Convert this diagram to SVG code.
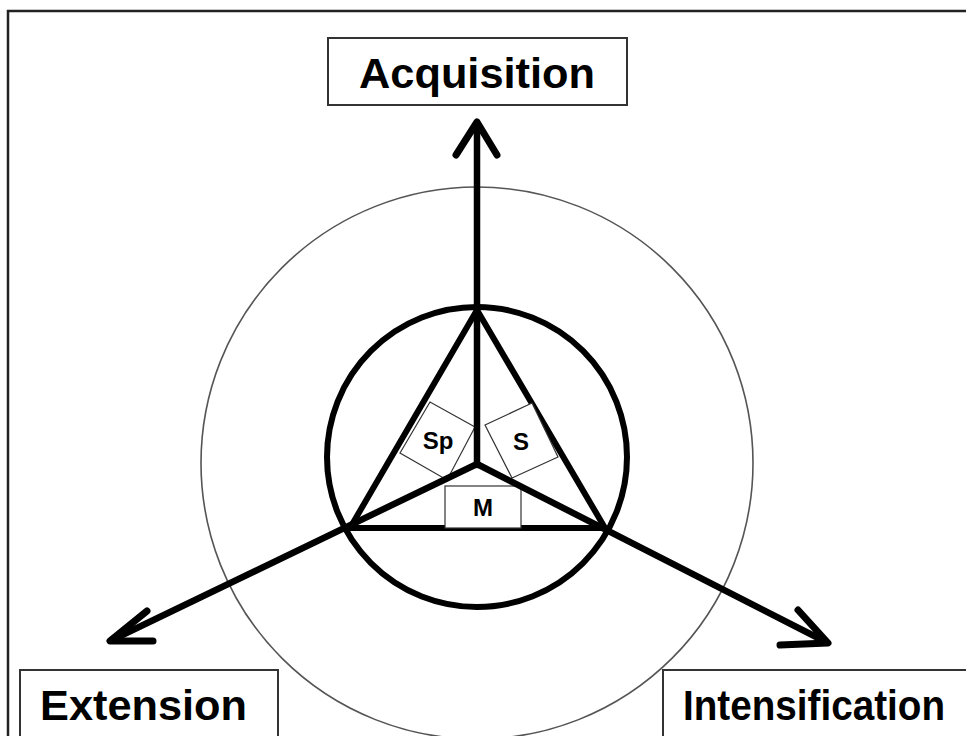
<svg xmlns="http://www.w3.org/2000/svg" width="966" height="736" viewBox="0 0 966 736">
  <style>
    .frame { fill: none; stroke: #222; stroke-width: 2.5; }
    .lbox { fill: #fff; stroke: #333; stroke-width: 2; }
    .ltext { font-family: "Liberation Sans", Arial, sans-serif; font-weight: bold; font-size: 42px; fill: #000; text-anchor: middle; }
    .sbox { fill: #fff; stroke: #333; stroke-width: 1.2; }
    .stext { font-family: "Liberation Sans", Arial, sans-serif; font-weight: bold; font-size: 24px; fill: #000; text-anchor: middle; }
    .thin { fill: none; stroke: #555; stroke-width: 1.6; }
    .thick { fill: none; stroke: #000; stroke-width: 6; stroke-linejoin: round; }
    .arrow { fill: none; stroke: #000; stroke-width: 6.5; stroke-linecap: round; }
    .head { fill: none; stroke: #000; stroke-width: 7; stroke-linecap: round; stroke-linejoin: round; }
  </style>
  <rect width="966" height="736" fill="#fff"/>
  <path class="frame" d="M966,11 H8 V736"/>

  <g id="outer-circle">
    <circle class="thin" cx="477" cy="463" r="276"/>
  </g>
  <g id="inner-circle">
    <circle class="thick" cx="477" cy="457" r="150"/>
  </g>
  <g id="triangle">
    <polygon class="thick" points="477,310 350,528 605,528"/>
  </g>

  <g id="node-sp">
    <polygon class="sbox" points="400,453 430,402 475,427 447,480"/>
    <text class="stext" x="438" y="449">Sp</text>
  </g>
  <g id="node-s">
    <polygon class="sbox" points="485,425 532,403 558,457 512,478"/>
    <text class="stext" x="521" y="450">S</text>
  </g>
  <g id="node-m">
    <rect class="sbox" x="445" y="486" width="76" height="42"/>
    <text class="stext" x="483" y="516">M</text>
  </g>

  <g id="connectors">
    <line class="arrow" x1="477" y1="465" x2="477" y2="124"/>
    <polyline class="head" points="456,155 477,122 497,155"/>
    <line class="arrow" x1="477" y1="464" x2="112" y2="640"/>
    <polyline class="head" points="147,611 110,641 153,641"/>
    <line class="arrow" x1="477" y1="464" x2="826" y2="642"/>
    <polyline class="head" points="798,610 828,643 780,645"/>
  </g>

  <g id="node-acquisition">
    <rect class="lbox" x="328" y="38" width="299" height="67"/>
    <text class="ltext" x="477" y="88" textLength="236" lengthAdjust="spacingAndGlyphs">Acquisition</text>
  </g>
  <g id="node-extension">
    <rect class="lbox" x="20" y="670" width="258" height="80"/>
    <text class="ltext" x="143.5" y="720" textLength="207" lengthAdjust="spacingAndGlyphs">Extension</text>
  </g>
  <g id="node-intensification">
    <rect class="lbox" x="663" y="670" width="320" height="80"/>
    <text class="ltext" x="814" y="720" textLength="262" lengthAdjust="spacingAndGlyphs">Intensification</text>
  </g>
</svg>
